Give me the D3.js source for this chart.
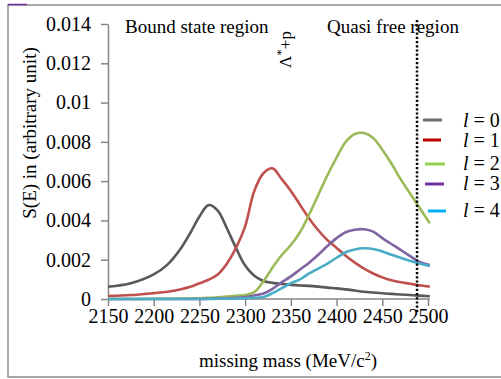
<!DOCTYPE html>
<html>
<head>
<meta charset="utf-8">
<script src="https://cdn.jsdelivr.net/npm/d3@7"></script>
<style>
  html, body { margin: 0; padding: 0; background: #fff; }
  svg { display: block; }
  svg text { font-family: "Liberation Serif", "Times New Roman", serif !important; fill: #000; }
</style>
</head>
<body>
<svg id="chart" width="501" height="379"></svg>
<script>
// Missing-mass grid (MeV/c^2)
const mass = [2150, 2175, 2200, 2215, 2230, 2240, 2250, 2260, 2270, 2280, 2290, 2300,
              2310, 2320, 2330, 2340, 2350, 2360, 2370, 2380, 2390, 2400, 2410, 2420,
              2430, 2440, 2450, 2460, 2470, 2480, 2490, 2502];

// Strength function S(E) for each orbital angular momentum l
const sL0 = [0.00062, 0.00080, 0.00125, 0.00175, 0.0026, 0.00336, 0.0042, 0.00478, 0.0045, 0.0036, 0.0026, 0.0017,
             0.00118, 0.00092, 0.00082, 0.00076, 0.00072, 0.00069, 0.00067, 0.00063, 0.00058, 0.00054, 0.00049, 0.00043,
             0.00037, 0.00033, 0.00029, 0.00026, 0.00023, 0.0002, 0.00017, 0.00014];
const sL1 = [0.00015, 0.0002, 0.0003, 0.00037, 0.0005, 0.00062, 0.0008, 0.00098, 0.00125, 0.0018, 0.0026, 0.0037,
             0.0055, 0.0064, 0.00665, 0.0061, 0.0055, 0.0048, 0.0041, 0.0035, 0.003, 0.0026, 0.0022, 0.00185,
             0.00155, 0.0013, 0.0011, 0.00095, 0.00085, 0.00078, 0.0007, 0.00063];
const sL2 = [0, 0, 0.00001, 0.00001, 0.00002, 0.00003, 0.00004, 0.00006, 0.00009, 0.00012, 0.00016, 0.0002,
             0.00035, 0.0009, 0.0016, 0.00224, 0.00275, 0.0034, 0.0043, 0.0053, 0.0063, 0.0072, 0.008, 0.0084,
             0.00845, 0.0082, 0.0076, 0.0069, 0.0061, 0.0054, 0.0047, 0.00385];
const sL3 = [0, 0, 0, 0, 0, 0, 0, 0.00001, 0.00002, 0.00004, 0.00006, 0.0001,
             0.00018, 0.00028, 0.00052, 0.00085, 0.00115, 0.0015, 0.00185, 0.00225, 0.0027, 0.0031, 0.0034, 0.00353,
             0.00355, 0.00343, 0.0031, 0.0028, 0.0025, 0.0022, 0.0019, 0.00173];
const sL4 = [0, 0, 0, 0, 0, 0, 0, 0, 0.00001, 0.00001, 0.00002, 0.00003,
             0.00006, 0.0001, 0.0003, 0.00055, 0.0008, 0.001, 0.0013, 0.00155, 0.0018, 0.0021, 0.00238, 0.00252,
             0.00258, 0.00255, 0.00242, 0.00225, 0.0021, 0.00195, 0.00182, 0.00168];

const seriesNames = ["0", "1", "2", "3", "4"];
const seriesValues = [sL0, sL1, sL2, sL3, sL4];

const xTicks = [2150, 2200, 2250, 2300, 2350, 2400, 2450, 2500];
const yTicks = [0, 0.002, 0.004, 0.006, 0.008, 0.01, 0.012, 0.014];
const yTickLabels = ["0", "0.002", "0.004", "0.006", "0.008", "0.01", "0.012", "0.014"];

// Threshold marker position (MeV/c^2)
const thresholdMass = 2488;

// ---- styling / layout ----
const SERIF = '"Liberation Serif", "Times New Roman", serif';
const curveColors = ["#595959", "#c0504d", "#9bbb59", "#8064a2", "#4bacc6"];
const legendColors = ["#6b6b6b", "#c00000", "#92d050", "#7030a0", "#00b0f0"];
const legendLineY = [120, 140, 164, 184, 211];
const legendTextY = [127, 147, 170, 190, 217];
const legendLineX = [[423, 442], [423, 441], [425, 445], [425, 444], [428, 446]];

const svg = d3.select("#chart");

const x = d3.scaleLinear().domain([2150, 2500]).range([108, 428]);
const y = d3.scaleLinear().domain([0, 0.014]).range([299, 24]);

// outer frame
svg.append("rect")
  .attr("x", 8).attr("y", 5).attr("width", 520).attr("height", 372)
  .attr("fill", "none").attr("stroke", "#8c8c8c").attr("stroke-width", 1.5);
svg.append("line")
  .attr("x1", 8).attr("x2", 27).attr("y1", 4.5).attr("y2", 4.5)
  .attr("stroke", "#7030a0").attr("stroke-width", 1.5);

// y axis
const yAxis = d3.axisLeft(y).tickValues(yTicks)
  .tickFormat((d, i) => yTickLabels[i]).tickSizeOuter(0).tickSizeInner(7).tickPadding(10);
const gy = svg.append("g").attr("transform", "translate(108,0)").call(yAxis)
  .attr("font-family", null).attr("font-size", null);
gy.select(".domain").attr("stroke", "#868686").attr("stroke-width", 1.5);
gy.selectAll(".tick line").attr("stroke", "#868686").attr("stroke-width", 1.5);
gy.selectAll(".tick text").style("font-size", "20px")
  .style("font-family", SERIF).attr("fill", "#000");

// x axis
const xAxis = d3.axisBottom(x).tickValues(xTicks).tickFormat(d3.format("d"))
  .tickSizeOuter(0).tickSizeInner(7).tickPadding(3);
const gx = svg.append("g").attr("transform", "translate(0,299)").call(xAxis)
  .attr("font-family", null).attr("font-size", null);
gx.select(".domain").attr("stroke", "#868686").attr("stroke-width", 1.5)
  .attr("d", `M108,0H${x(2502)}`);
gx.selectAll(".tick line").attr("stroke", "#868686").attr("stroke-width", 1.5);
gx.selectAll(".tick text").style("font-size", "20px")
  .style("font-family", SERIF).attr("fill", "#000");

// curves
const line = d3.line()
  .x(d => x(d[0]))
  .y(d => y(d[1]))
  .curve(d3.curveCatmullRom.alpha(0.5));

seriesValues.forEach((vals, i) => {
  svg.append("path")
    .datum(mass.map((m, k) => [m, vals[k]]))
    .attr("d", line)
    .attr("fill", "none")
    .attr("stroke", curveColors[i])
    .attr("stroke-width", 2.6)
    .attr("stroke-linejoin", "round");
});

// threshold dotted line
svg.append("line")
  .attr("x1", x(thresholdMass)).attr("x2", x(thresholdMass))
  .attr("y1", 20).attr("y2", 313)
  .attr("stroke", "#000").attr("stroke-width", 2.5)
  .attr("stroke-dasharray", "2.2,2");

// region labels
svg.append("text").attr("x", 125).attr("y", 33).style("font-size", "19px").text("Bound state region");
svg.append("text").attr("x", 327).attr("y", 33).style("font-size", "19px").text("Quasi free region");

// rotated threshold label
const thr = svg.append("text")
  .attr("transform", "translate(291,68) rotate(-90)")
  .style("font-size", "17px");
thr.append("tspan").text("Λ");
thr.append("tspan").attr("dy", -6).style("font-size", "13px").text("*");
thr.append("tspan").attr("dy", 6).text("+p");

// axis titles
svg.append("text")
  .attr("transform", "translate(36,133) rotate(-90)")
  .attr("text-anchor", "middle").style("font-size", "19px")
  .text("S(E) in (arbitrary unit)");

const xt = svg.append("text")
  .attr("x", 288).attr("y", 367).attr("text-anchor", "middle").style("font-size", "19px");
xt.append("tspan").text("missing mass (MeV/c");
xt.append("tspan").attr("dy", -7).style("font-size", "12px").text("2");
xt.append("tspan").attr("dy", 7).text(")");

// legend
seriesNames.forEach((name, i) => {
  svg.append("line")
    .attr("x1", legendLineX[i][0]).attr("x2", legendLineX[i][1])
    .attr("y1", legendLineY[i]).attr("y2", legendLineY[i])
    .attr("stroke", legendColors[i]).attr("stroke-width", 3);
  const t = svg.append("text").attr("x", 463).attr("y", legendTextY[i]).style("font-size", "20px");
  t.append("tspan").attr("font-style", "italic").text("l");
  t.append("tspan").text(" = " + name);
});
</script>
</body>
</html>
